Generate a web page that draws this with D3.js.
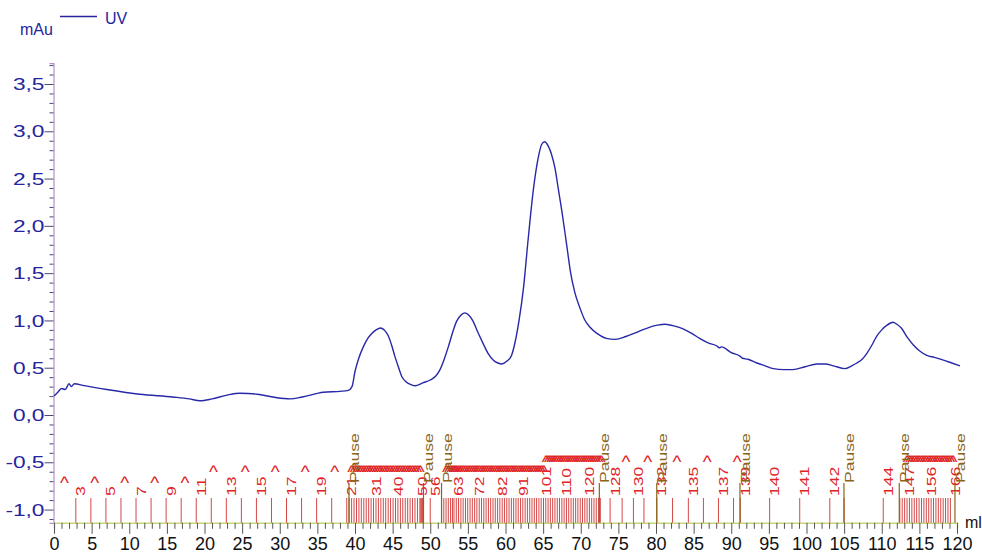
<!DOCTYPE html>
<html><head><meta charset="utf-8">
<script src="https://cdn.jsdelivr.net/npm/d3@7"></script>
<style>
html,body{margin:0;padding:0;background:#fff;}
svg{display:block;font-family:"Liberation Sans",Arial,sans-serif;}
</style></head><body>
<svg id="chart" width="982" height="555"></svg>
<script>
// UV absorbance trace: elution volume (ml) and absorbance (mAu)
const uvVolume = [0, 0.5, 1.0, 1.5, 2.0, 2.3, 2.7, 4, 7, 11.4, 15.8, 18, 19.4, 21, 23, 24.7, 27, 29.1, 31.4, 33, 35.8, 38, 39.1, 39.6,
  40.0, 40.5, 41.1, 41.7, 42.2, 42.8, 43.4, 44.0, 44.4, 44.9, 45.3, 45.8, 46.2, 46.8, 47.5, 48.0, 49, 50.0, 50.7, 51.3, 51.9,
  52.4, 53.0, 53.5, 54.0, 54.6, 55.2, 55.7, 56.3, 57.0, 57.7, 58.4, 59.0, 59.5, 60.2, 60.8, 61.3, 61.8, 62.4, 63.0, 63.7,
  64.3, 64.8, 65.2, 65.7, 66.1, 66.6, 67.0, 67.5, 67.9, 68.3, 68.6, 69.2, 69.9, 70.5, 71.2, 72.2, 73.4, 74.6, 76, 77.0,
  78.2, 79.2, 80.2, 81.2, 82.5, 83.6, 84.8, 85.8, 87.0, 88.1, 88.4, 88.7, 90, 91.2, 91.5, 92.2, 93.4, 94.5, 95.6, 97,
  98.2, 99.8, 101.4, 102.5, 103.6, 105.1, 106.0, 106.7, 107.4, 108.0, 108.7, 109.3, 110.0, 110.7, 111.5, 112.0, 112.6,
  113.4, 114.2, 115.0, 116.0, 117.0, 118.2, 119.3, 120.4];
const uvAbsorbance = [0.20, 0.24, 0.28, 0.27, 0.33, 0.30, 0.33, 0.31, 0.27, 0.22, 0.19, 0.17, 0.15, 0.17, 0.21, 0.23, 0.22, 0.19, 0.17, 0.19, 0.24, 0.25, 0.26, 0.30,
  0.46, 0.60, 0.72, 0.81, 0.86, 0.90, 0.92, 0.89, 0.84, 0.73, 0.62, 0.50, 0.41, 0.35, 0.32, 0.31, 0.34, 0.37, 0.41, 0.48, 0.60,
  0.72, 0.88, 0.99, 1.05, 1.08, 1.05, 0.99, 0.88, 0.76, 0.65, 0.58, 0.55, 0.54, 0.57, 0.63, 0.78, 1.00, 1.35, 1.85, 2.38,
  2.70, 2.86, 2.89, 2.84, 2.76, 2.60, 2.40, 2.15, 1.93, 1.70, 1.53, 1.30, 1.13, 1.01, 0.93, 0.86, 0.81, 0.80, 0.83, 0.86,
  0.90, 0.93, 0.95, 0.96, 0.94, 0.91, 0.86, 0.81, 0.76, 0.73, 0.71, 0.72, 0.66, 0.62, 0.60, 0.59, 0.55, 0.52, 0.49, 0.48,
  0.48, 0.51, 0.54, 0.54, 0.52, 0.49, 0.52, 0.55, 0.59, 0.65, 0.74, 0.83, 0.90, 0.95, 0.98, 0.96, 0.92,
  0.82, 0.74, 0.68, 0.63, 0.61, 0.58, 0.55, 0.52];

// Fraction collector marks: fraction number and start volume (ml)
const fractionNumber = [3, 4, 5, 6, 7, 8, 9, 10, 11, 12, 13, 14, 15, 16, 17, 18, 19, 20,
  21, 22, 23, 24, 25, 26, 27, 28, 29, 30, 31, 32, 33, 34, 35, 36, 37, 38, 39, 40, 41, 42, 43, 44, 45, 46, 47, 48, 49, 50,
  51, 52, 53, 54, 55, 56, 57, 58, 59, 60, 61, 62, 63, 64, 65, 66, 67, 68, 69, 70, 71, 72, 73, 74, 75, 76, 77, 78, 79, 80,
  81, 82, 83, 84, 85, 86, 87, 88, 89, 90, 91, 92, 93, 94, 95, 96, 97, 98, 99, 100, 101, 102, 103, 104, 105, 106, 107, 108,
  109, 110, 111, 112, 113, 114, 115, 116, 117, 118, 119, 120, 121, 122, 123, 124, 125, 126, 127,
  128, 129, 130, 131, 132, 133, 135, 136, 137, 138, 139, 140, 141, 142, 143, 144,
  145, 146, 147, 148, 149, 150, 151, 152, 153, 154, 155, 156, 157, 158, 159, 160, 161, 162, 163, 164, 165, 166];
const fractionVolume = [2.9, 4.9, 6.9, 8.9, 10.9, 12.9, 14.9, 16.9, 18.9, 20.9, 22.9, 24.9, 26.9, 28.9, 30.9, 32.9, 34.9, 36.9,
  38.90, 39.22, 39.55, 39.87, 40.20, 40.52, 40.84, 41.17, 41.49, 41.82, 42.14, 42.46, 42.79, 43.11, 43.44, 43.76, 44.08, 44.41,
  44.73, 45.06, 45.38, 45.70, 46.03, 46.35, 46.68, 47.00, 47.32, 47.65, 47.97, 48.30,
  48.62, 48.74, 48.86, 48.98, 49.10, 50.00, 51.50, 51.80, 52.10, 52.40, 52.70, 52.95, 53.15, 53.46, 53.76, 54.07, 54.37,
  54.68, 54.98, 55.29, 55.59, 55.90, 56.20, 56.51, 56.81, 57.12, 57.42, 57.73, 58.03, 58.34, 58.64, 58.95, 59.25, 59.56,
  59.86, 60.17, 60.47, 60.78, 61.08, 61.39, 61.69, 62.00, 62.30, 62.61, 62.91, 63.22, 63.52, 63.83, 64.13, 64.44, 64.74,
  65.05, 65.35, 65.66, 65.96, 66.27, 66.57, 66.88, 67.18, 67.49, 67.79, 68.10, 68.40, 68.71, 69.01, 69.32, 69.62, 69.93,
  70.23, 70.54, 70.84, 71.15, 71.45, 71.76, 72.06, 72.37, 72.60,
  73.9, 75.5, 77.0, 78.4, 80.1, 82.2, 84.3, 86.3, 88.3, 90.3, 91.2, 95.1, 99.1, 103.1, 105.0, 110.2,
  112.40, 112.72, 113.04, 113.36, 113.68, 114.00, 114.32, 114.64, 114.96, 115.28, 115.60, 115.92, 116.24, 116.56,
  116.88, 117.20, 117.52, 117.84, 118.16, 118.48, 118.80, 119.12];
// Fractions whose number is printed
const fractionLabelNumbers = [3, 5, 7, 9, 11, 13, 15, 17, 19, 21, 31, 40, 50, 56, 63, 72, 82, 91, 101, 110, 120,
  128, 130, 132, 135, 137, 139, 140, 141, 142, 144, 147, 156, 166];

// Logbook "Pause" events (ml)
const pauseVolume = [39.2, 49.1, 51.5, 72.47, 80.1, 91.16, 104.98, 112.33, 119.73];

// Single "^" event marks (ml) and their row
const eventVolume = [1.4, 5.4, 9.4, 13.4, 17.4, 21.2, 25.4, 29.4, 33.4, 37.3, 76.0, 78.9, 82.8, 86.8, 90.8];
const eventRow = [0, 0, 0, 0, 0, 1, 1, 1, 1, 1, 2, 2, 2, 2, 2];
// Runs of "^" marks, one per fraction inside each volume range
const eventRunFrom = [39.2, 51.7, 65.0, 112.9];
const eventRunTo = [48.4, 64.8, 72.5, 119.2];
const eventRunRow = [1, 1, 2, 2];

// Axis ticks
const yMajorTicks = [-1.0, -0.5, 0.0, 0.5, 1.0, 1.5, 2.0, 2.5, 3.0, 3.5];
const xMajorTicks = [0, 5, 10, 15, 20, 25, 30, 35, 40, 45, 50, 55, 60, 65, 70, 75, 80, 85, 90, 95, 100, 105, 110, 115, 120];

const svg = d3.select("#chart");
const x = d3.scaleLinear().domain([0, 120]).range([54, 957]);
const y = d3.scaleLinear().domain([0, 3.5]).range([415, 84]);
const yBottom = -1.14, yTop = 3.72;
const baseY = y(yBottom);

const red = "#e02424", brown = "#8a6518", blue = "#24249c";

// ---- Y axis
const yAxisScale = y.copy().domain([yBottom, yTop]).range([y(yBottom), y(yTop)]);
const fmt = d => (d < 0 ? "-" : "") + Math.abs(d).toFixed(1).replace(".", ",");
const yMinor = d3.range(-11, 38).map(i => i / 10).filter(v => !yMajorTicks.some(m => Math.abs(m - v) < 1e-6));
const gyMinor = svg.append("g").attr("transform", "translate(53.5,0)")
  .call(d3.axisLeft(yAxisScale).tickValues(yMinor).tickSize(4).tickFormat(""));
gyMinor.select(".domain").attr("stroke", "#b890c8").attr("stroke-width", 1.2);
gyMinor.selectAll(".tick line").attr("stroke", "#4a4a78");
const gyMajor = svg.append("g").attr("transform", "translate(53.5,0)")
  .call(d3.axisLeft(yAxisScale).tickValues(yMajorTicks).tickSize(9).tickFormat(fmt));
gyMajor.select(".domain").remove();
gyMajor.selectAll(".tick line").attr("stroke", "#4a4a78");
// wide lettering of the value labels
gyMajor.selectAll(".tick text").attr("x", null).attr("dy", "0.35em")
  .attr("transform", "translate(-9,0) scale(1.42,1)")
  .attr("fill", blue).attr("font-size", 16)
  .attr("font-family", "Liberation Sans, Arial, sans-serif");

// ---- X axis
const xMinor = d3.range(0, 121).filter(v => v % 5 !== 0);
const gxMinor = svg.append("g").attr("transform", `translate(0,${baseY})`)
  .call(d3.axisBottom(x).tickValues(xMinor).tickSize(6).tickFormat(""));
gxMinor.select(".domain").attr("stroke", "#c6d67a").attr("stroke-width", 1.5);
gxMinor.selectAll(".tick line").attr("stroke", "#555");
const gxMajor = svg.append("g").attr("transform", `translate(0,${baseY})`)
  .call(d3.axisBottom(x).tickValues(xMajorTicks).tickSize(11).tickPadding(3).tickFormat(d => d));
gxMajor.select(".domain").remove();
gxMajor.selectAll(".tick line").attr("stroke", "#555");
gxMajor.selectAll(".tick text").attr("fill", "#111").attr("font-size", 18)
  .attr("font-family", "Liberation Sans, Arial, sans-serif");

svg.append("text").attr("x", 965).attr("y", 528).attr("font-size", 16).attr("fill", "#111").text("ml");
svg.append("text").attr("x", 20).attr("y", 35).attr("font-size", 16).attr("fill", blue).text("mAu");

// ---- Legend
svg.append("line").attr("x1", 60).attr("x2", 97).attr("y1", 16.5).attr("y2", 16.5)
  .attr("stroke", blue).attr("stroke-width", 1.3);
svg.append("text").attr("x", 105).attr("y", 24).attr("font-size", 16).attr("fill", blue).text("UV");

// ---- Fraction marks
const fracTop = 498;
const fractions = fractionNumber.map((n, i) => ({ n, v: fractionVolume[i] }));
svg.append("g").selectAll("line").data(fractions).join("line")
  .attr("x1", d => x(d.v)).attr("x2", d => x(d.v))
  .attr("y1", baseY).attr("y2", fracTop)
  .attr("stroke", "#d64848").attr("stroke-width", 1);

const stretch = "scale(1.35,1)";
svg.append("g").selectAll("text")
  .data(fractions.filter(d => fractionLabelNumbers.includes(d.n))).join("text")
  .attr("transform", d => `translate(${x(d.v) + 9.5},496) rotate(-90) ${stretch}`)
  .attr("font-size", 13).attr("fill", red).text(d => d.n);

// ---- Event "^" marks: single marks plus one mark per fraction inside each run
const caretSize = 19;
const rowY = [488.5, 478, 467.5];
const events = eventVolume.map((v, i) => ({ v, row: eventRow[i] }));
eventRunFrom.forEach((from, k) => {
  fractions.filter(f => f.v >= from && f.v <= eventRunTo[k])
    .forEach(f => events.push({ v: f.v + 0.35, row: eventRunRow[k] }));
});
svg.append("g").selectAll("text").data(events).join("text")
  .attr("x", d => x(d.v)).attr("y", d => rowY[d.row])
  .attr("text-anchor", "middle").attr("font-size", caretSize).attr("fill", red).text("^");

// ---- Pause marks
svg.append("g").selectAll("line").data(pauseVolume).join("line")
  .attr("x1", d => x(d)).attr("x2", d => x(d)).attr("y1", baseY).attr("y2", 483)
  .attr("stroke", brown).attr("stroke-width", 1.2);
svg.append("g").selectAll("text").data(pauseVolume).join("text")
  .attr("transform", d => `translate(${x(d) + 10},483) rotate(-90) ${stretch}`)
  .attr("font-size", 13).attr("fill", brown).text("Pause");

// ---- UV trace
const uv = uvVolume.map((v, i) => [v, uvAbsorbance[i]]);
svg.append("path").datum(uv)
  .attr("fill", "none").attr("stroke", "#2828a8").attr("stroke-width", 1.4)
  .attr("d", d3.line().x(d => x(d[0])).y(d => y(d[1])).curve(d3.curveMonotoneX));
</script>
</body></html>
